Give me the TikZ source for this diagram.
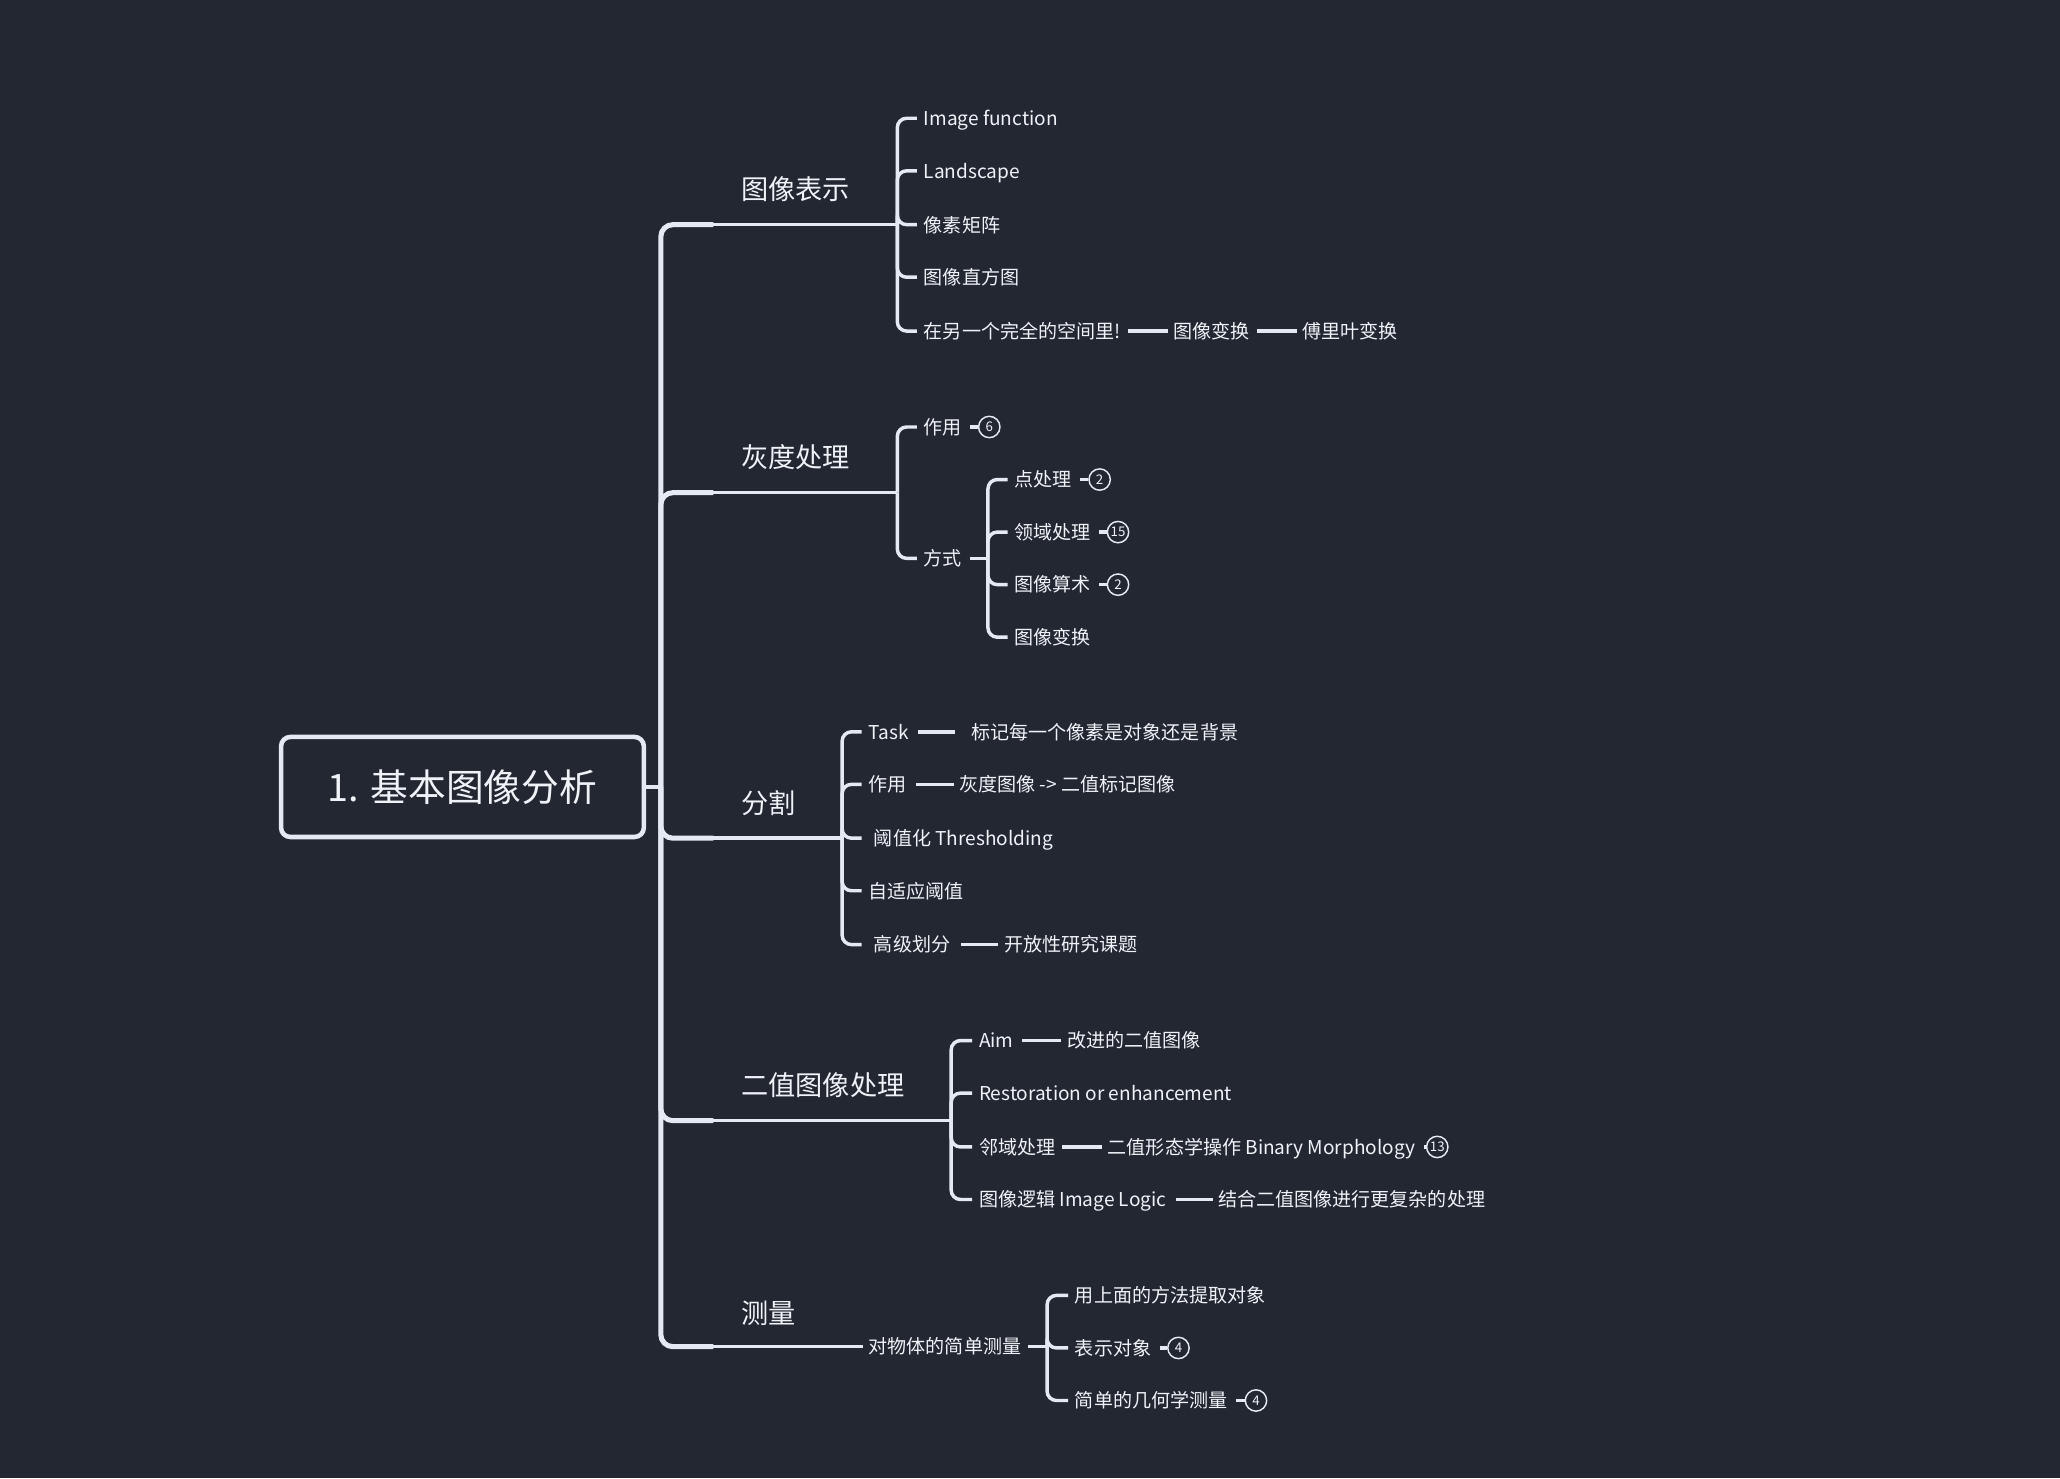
\documentclass[tikz,border=0pt]{standalone}
\usepackage{fontspec}
\newfontfamily\cjk{Noto Sans CJK SC}
\definecolor{bg}{RGB}{34,39,49}
\definecolor{ln}{RGB}{229,234,242}
\definecolor{tx}{RGB}{239,242,247}
\begin{document}
\begin{tikzpicture}[x=0.985pt,y=-0.985pt,
  every node/.style={text=tx, inner sep=0pt},
  t/.style={anchor=west, font=\cjk\fontsize{14.3}{16}\selectfont, text height=1.1em, text depth=0em},
  topic/.style={anchor=west, font=\cjk\fontsize{20.4}{24}\selectfont, text height=1.4em, text depth=0em},
  rootbox/.style={draw=ln, line width=3.4pt, rounded corners=7pt, minimum width=272pt, minimum height=75pt, font=\cjk\fontsize{28.3}{32}\selectfont},
  trunkl/.style={draw=ln, line width=3.8pt, rounded corners=9pt},
  br/.style={draw=ln, line width=2.6pt},
  conn/.style={draw=ln, line width=2.6pt, rounded corners=7pt, shorten >=5pt},
  link/.style={draw=ln, line width=2.6pt, shorten <=5pt, shorten >=4pt},
  badge/.style={circle, draw=ln, line width=1.1pt, minimum size=16pt, font=\cjk\fontsize{10}{10}\selectfont},
  stub/.style={draw=ln, line width=2.6pt, shorten <=6pt}]
\fill[bg] (0,0) rectangle (1568,1125);
\useasboundingbox (0,0) rectangle (1568,1125);

% root
\node[rootbox] (root) at (352,599) {1. 基本图像分析};
\coordinate (tr) at (503,599);
\draw[br] (root.east) -- (tr);

% branch coordinates
\coordinate (k1) at (543,171); \coordinate (b1) at (683,171);
\coordinate (k2) at (543,375); \coordinate (b2) at (683,375);
\coordinate (k3) at (543,638); \coordinate (b3) at (641,638);
\coordinate (k4) at (543,853); \coordinate (b4) at (724,853);
\coordinate (k5) at (543,1025);

% topics
\node[topic] (T1) at (564,145) {图像表示};
\node[topic] (T2) at (564,349) {灰度处理};
\node[topic] (T3) at (564,612) {分割};
\node[topic] (T4) at (564,827) {二值图像处理};
\node[topic] (T5) at (564,1000) {测量};

% 图像表示
\node[t] (a1) at (703,90) {Image function};
\node[t] (a2) at (703,130) {Landscape};
\node[t] (a3) at (703,171) {像素矩阵};
\node[t] (a4) at (703,211) {图像直方图};
\node[t] (a5) at (703,252) {在另一个完全的空间里!};
\node[t] (a6) at (893,252) {图像变换};
\node[t] (a7) at (991,252) {傅里叶变换};

% 灰度处理
\node[t] (g1) at (703,325) {作用};
\node[badge] (g1n) at (753,325) {6};
\node[t] (g2) at (703,425) {方式};
\coordinate (g2b) at (752,425);
\node[t] (g3) at (772,365) {点处理};
\node[badge] (g3n) at (837,365) {2};
\node[t] (g4) at (772,405) {领域处理};
\node[badge] (g4n) at (851,405) {15};
\node[t] (g5) at (772,445) {图像算术};
\node[badge] (g5n) at (851,445) {2};
\node[t] (g6) at (772,485) {图像变换};

% 分割
\node[t] (s1) at (661,557) {Task};
\node[t] (s1b) at (739,557) {标记每一个像素是对象还是背景};
\node[t] (s2) at (661,597) {作用};
\node[t] (s2b) at (730,597) {灰度图像 -> 二值标记图像};
\node[t] (s3) at (665,638) {阈值化 Thresholding};
\node[t] (s4) at (661,678) {自适应阈值};
\node[t] (s5) at (665,719) {高级划分};
\node[t] (s5b) at (764,719) {开放性研究课题};

% 二值图像处理
\node[t] (e1) at (745,792) {Aim};
\node[t] (e1b) at (812,792) {改进的二值图像};
\node[t] (e2) at (745,832) {Restoration or enhancement};
\node[t] (e3) at (745,873) {邻域处理};
\node[t] (e3b) at (843,873) {二值形态学操作 Binary Morphology};
\node[badge] (e3n) at (1094,873) {13};
\node[t] (e4) at (745,913) {图像逻辑 Image Logic};
\node[t] (e4b) at (927,913) {结合二值图像进行更复杂的处理};

% 测量
\node[t] (m1) at (661,1025) {对物体的简单测量};
\coordinate (m1b) at (797,1025);
\node[t] (m2) at (818,986) {用上面的方法提取对象};
\node[t] (m3) at (818,1026) {表示对象};
\node[badge] (m3n) at (897,1026) {4};
\node[t] (m4) at (818,1066) {简单的几何学测量};
\node[badge] (m4n) at (956,1066) {4};

% trunk and branches
\foreach \k/\b in {k1/b1,k2/b2,k3/b3,k4/b4}{
  \draw[trunkl] (tr) |- (\k);
  \draw[br] (\k) -- (\b);
}
\draw[trunkl] (tr) |- (k5);
\draw[br, shorten >=4pt] (k5) -- (m1.west);

% brackets
\foreach \c in {a1,a2,a3,a4,a5}{ \draw[conn] (b1) |- (\c.west); }
\foreach \c in {g1,g2}{ \draw[conn] (b2) |- (\c.west); }
\draw[br, shorten <=6pt] (g2.east) -- (g2b);
\foreach \c in {g3,g4,g5,g6}{ \draw[conn] (g2b) |- (\c.west); }
\foreach \c in {s1,s2,s4}{ \draw[conn] (b3) |- (\c.west); }
\foreach \c in {s3,s5}{ \draw[conn, shorten >=9pt] (b3) |- (\c.west); }
\foreach \c in {e1,e2,e3,e4}{ \draw[conn] (b4) |- (\c.west); }
\draw[br, shorten <=5pt] (m1.east) -- (m1b);
\foreach \c in {m2,m3,m4}{ \draw[conn] (m1b) |- (\c.west); }

% links
\draw[link] (a5.east) -- (a6.west);
\draw[link] (a6.east) -- (a7.west);
\draw[link, shorten <=7pt, shorten >=12pt] (s1.east) -- (s1b.west);
\draw[link, shorten <=7pt] (s2.east) -- (s2b.west);
\draw[link, shorten <=8pt] (s5.east) -- (s5b.west);
\draw[link, shorten <=6pt] (e1.east) -- (e1b.west);
\draw[link] (e3.east) -- (e3b.west);
\draw[link, shorten <=7pt] (e4.east) -- (e4b.west);

% badge stubs
\draw[stub] (g1.east) -- (g1n.west);
\draw[stub] (g3.east) -- (g3n.west);
\draw[stub] (g4.east) -- (g4n.west);
\draw[stub] (g5.east) -- (g5n.west);
\draw[stub] (e3b.east) -- (e3n.west);
\draw[stub] (m3.east) -- (m3n.west);
\draw[stub] (m4.east) -- (m4n.west);
\end{tikzpicture}
\end{document}
